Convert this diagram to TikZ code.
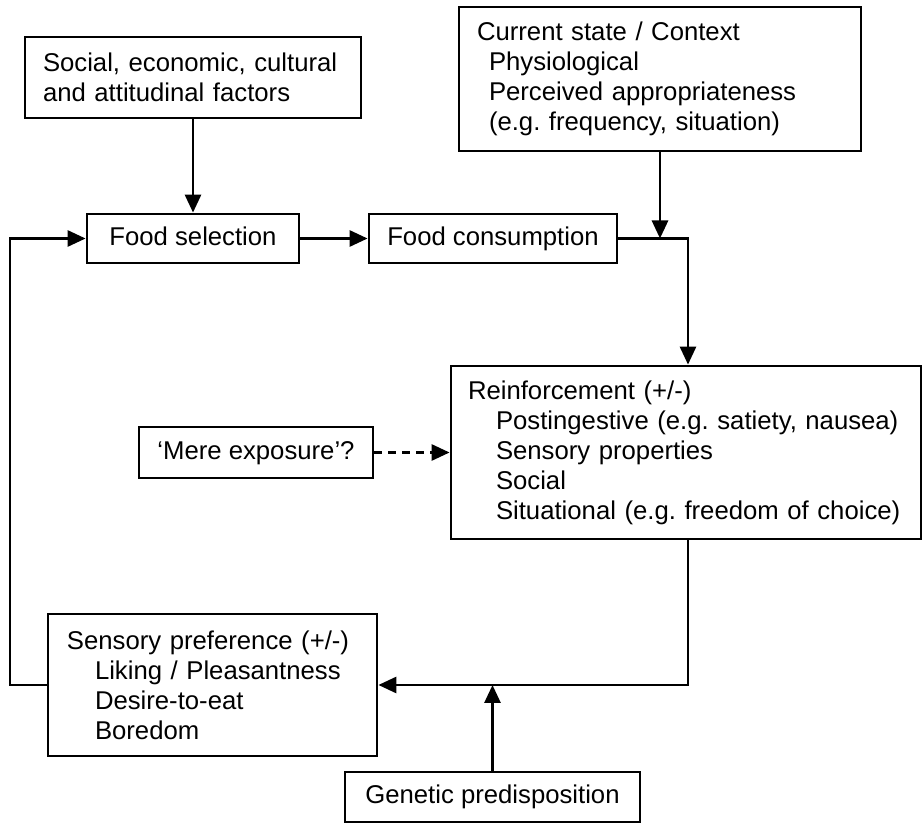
\documentclass[tikz,border=0pt]{standalone}
\usepackage{fontspec}
\setmainfont{Liberation Sans}
\usetikzlibrary{arrows.meta}
\newcommand{\ind}[1][14pt]{\hspace*{#1}}
\tikzset{
  box/.style={draw=black,line width=1.4pt,inner sep=0pt,
    font=\fontsize{12.85}{15}\selectfont\frenchspacing},
  sbox/.style={box,text height=9.3pt,text depth=2.7pt},
  lbox/.style={box,align=left,text width=#1},
  arr/.style={-{Triangle[length=9pt,width=8pt]},line width=1.4pt},
}

\begin{document}
\begin{tikzpicture}[x=0.5pt,y=-0.5pt]
  \useasboundingbox (0,0) rectangle (923,823);
  % boxes
  \node[lbox=150pt,minimum width=168pt,minimum height=40.5pt] (social) at (193,77.5)
    {Social, economic, cultural\\and attitudinal factors};
  \node[lbox=183pt,minimum width=201pt,minimum height=72pt] (cur) at (660,79)
    {Current state / Context\\\ind[6pt]Physiological\\\ind[6pt]Perceived appropriateness\\\ind[6pt](e.g. frequency, situation)};
  \node[sbox,minimum width=106pt,minimum height=24.5pt] (sel) at (193,238.5) {Food selection};
  \node[sbox,minimum width=124pt,minimum height=24.5pt] (cons) at (493,238.5) {Food consumption};
  \node[lbox=218pt,minimum width=235pt,minimum height=86.5pt] (reinf) at (686,452.5)
    {Reinforcement (+/-)\\\ind Postingestive (e.g. satiety, nausea)\\\ind Sensory properties\\\ind Social\\\ind Situational (e.g. freedom of choice)};
  \node[sbox,minimum width=117pt,minimum height=25.5pt] (mere) at (256,452.5) {`Mere exposure'?};
  \node[lbox=145.5pt,minimum width=164.5pt,minimum height=71pt] (sens) at (212.5,685)
    {Sensory preference (+/-)\\\ind Liking / Pleasantness\\\ind Desire-to-eat\\\ind Boredom};
  \node[sbox,minimum width=147.5pt,minimum height=25pt] (gen) at (492.5,797) {Genetic predisposition};
  % bends of the connectors
  \coordinate (jr) at (688,238.5);
  \coordinate (jb) at (688,685);
  \coordinate (lb) at (10,685);
  \coordinate (lt) at (10,238.5);
  % connectors
  \draw[arr] (social) -- (sel);
  \draw[arr] (sel) -- (cons);
  \draw[arr] (cons) -- (jr) -- (jr |- reinf.north);
  \draw[arr] (cur) -- (cur.south |- jr);
  \draw[arr,dash pattern=on 4pt off 3pt] (mere) -- (reinf);
  \draw[arr] (jr |- reinf.south) -- (jb) -- (sens);
  \draw[arr] (gen) -- (gen.north |- jb);
  \draw[arr] (sens.west) -- (lb) -- (lt) -- (sel.west);
\end{tikzpicture}
\end{document}
